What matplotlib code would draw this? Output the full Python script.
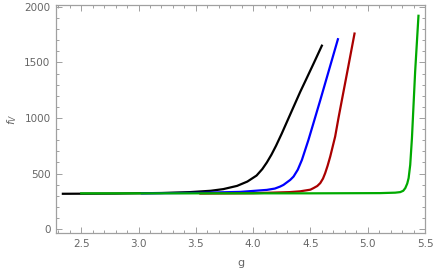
import numpy as np
import matplotlib
matplotlib.use("Agg")
import matplotlib.pyplot as plt
from matplotlib.ticker import MultipleLocator

# curves
g_black = [2.34, 2.8, 3.2, 3.45, 3.63, 3.74, 3.86, 3.95, 4.03, 4.08, 4.12, 4.16,
           4.20, 4.25, 4.34, 4.411, 4.457, 4.53, 4.60]
f_black = [318, 320, 325, 333, 345, 360, 389, 428, 482, 540, 600, 670,
           750, 860, 1070, 1235, 1335, 1495, 1651]

g_blue = [3.03, 3.5, 3.89, 4.12, 4.19, 4.236, 4.265, 4.324, 4.353, 4.39, 4.426,
          4.483, 4.527, 4.586, 4.65, 4.74]
f_blue = [322, 326, 335, 353, 365, 383, 398, 443, 473, 535, 623,
          803, 955, 1160, 1388, 1709]

g_red = [3.54, 4.0, 4.32, 4.41, 4.50, 4.527, 4.56, 4.586, 4.61, 4.629, 4.65, 4.673,
         4.716, 4.745, 4.78, 4.83, 4.885]
f_red = [320, 323, 333, 340, 355, 369, 388, 414, 455, 504, 570, 653,
         833, 1000, 1190, 1460, 1760]

g_green = [2.5, 3.5, 4.5, 5.11, 5.24, 5.284, 5.31, 5.328, 5.345, 5.357, 5.371,
           5.386, 5.40, 5.414, 5.443]
f_green = [322, 322, 322, 324, 328, 333, 345, 369, 410, 459, 578,
           818, 1118, 1417, 1920]

fig = plt.figure(figsize=(4.36, 2.77), dpi=100)
ax = fig.add_axes([56/436, 1-233/277, (425-56)/436, (233-5)/277])

ax.plot(g_black, f_black, color="black", lw=1.6)
ax.plot(g_blue, f_blue, color="#0000ff", lw=1.6)
ax.plot(g_red, f_red, color="#aa0000", lw=1.6)
ax.plot(g_green, f_green, color="#00aa00", lw=1.6)

ax.set_xlim(2.28, 5.5)
ax.set_ylim(-35, 2017)
ax.xaxis.set_major_locator(MultipleLocator(0.5))
ax.xaxis.set_minor_locator(MultipleLocator(0.1))
ax.yaxis.set_major_locator(MultipleLocator(500))
ax.yaxis.set_minor_locator(MultipleLocator(100))
ax.xaxis.set_major_formatter(matplotlib.ticker.FormatStrFormatter("%.1f"))

fc = "#a0a0a0"
for s in ax.spines.values():
    s.set_color(fc)
    s.set_linewidth(0.9)
ax.tick_params(which="both", direction="in", top=True, right=True, color=fc,
               labelcolor="#666666", labelsize=7.5, width=0.7)
ax.tick_params(which="major", length=4, pad=4)
ax.tick_params(which="minor", length=2)

ax.set_xlabel("g", color="#666666", fontsize=8, labelpad=7)
ax.set_ylabel("$f_V$", color="#666666", fontsize=8, labelpad=4)

fig.savefig("out.png", dpi=100)
